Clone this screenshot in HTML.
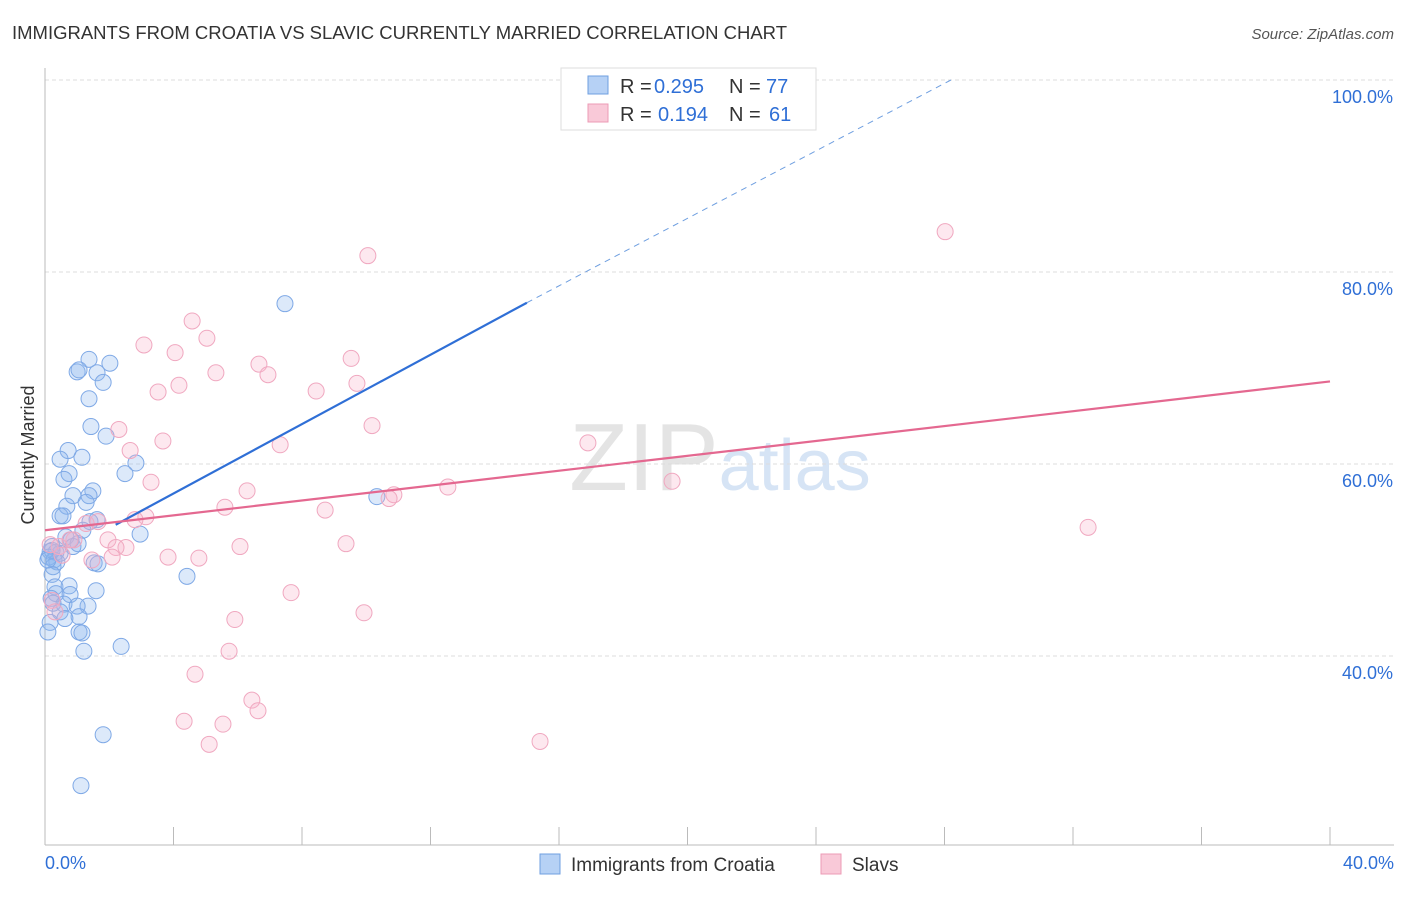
<!DOCTYPE html>
<html><head><meta charset="utf-8"><style>
body{margin:0;background:#fff;font-family:"Liberation Sans",sans-serif}
svg text{font-family:"Liberation Sans",sans-serif}
</style></head><body>
<svg id="c" width="1406" height="892">
<text x="12" y="39" font-size="18.5" fill="#333" textLength="775">IMMIGRANTS FROM CROATIA VS SLAVIC CURRENTLY MARRIED CORRELATION CHART</text>
<text x="1394" y="39" font-size="15" fill="#555" font-style="italic" text-anchor="end">Source: ZipAtlas.com</text>
<text x="720" y="490" font-size="96" fill="#e4e4e4" text-anchor="middle" font-family="Liberation Serif">ZIP<tspan fill="#d6e4f5" font-family="Liberation Sans" font-size="72">atlas</tspan></text>
<text x="34" y="455" font-size="18" fill="#333" text-anchor="middle" transform="rotate(-90 34 455)">Currently Married</text>
<g id="grid"></g><g id="pts"></g><g id="lines"></g>
<g>
<rect x="561" y="68" width="255" height="62" fill="#fff" stroke="#ddd"/>
<rect x="588" y="76" width="20" height="18" fill="#b6d1f5" stroke="#6f9fe0"/>
<rect x="588" y="104" width="20" height="18" fill="#f9c9d8" stroke="#ec9bb6"/>
<text x="620" y="93" font-size="20" fill="#333">R =</text>
<text x="654" y="93" font-size="20" fill="#2f6fd6">0.295</text>
<text x="729" y="93" font-size="20" fill="#333">N =</text>
<text x="766" y="93" font-size="20" fill="#2f6fd6">77</text>
<text x="620" y="121" font-size="20" fill="#333">R =</text>
<text x="658" y="121" font-size="20" fill="#2f6fd6">0.194</text>
<text x="729" y="121" font-size="20" fill="#333">N =</text>
<text x="769" y="121" font-size="20" fill="#2f6fd6">61</text>
</g>
<g>
<rect x="540" y="854" width="20" height="20" fill="#b6d1f5" stroke="#6f9fe0"/>
<text x="571" y="871" font-size="19" fill="#333">Immigrants from Croatia</text>
<rect x="821" y="854" width="20" height="20" fill="#f9c9d8" stroke="#ec9bb6"/>
<text x="852" y="871" font-size="19" fill="#333">Slavs</text>
</g>
<text x="45" y="869" font-size="18" fill="#2f6fd6">0.0%</text>
<text x="1394" y="869" font-size="18" fill="#2f6fd6" text-anchor="end">40.0%</text>
</svg>
<script>
const yTicks=[100,80,60,40];
const blueX=[285,89,110,77,79,97,103,89,91,106,68,82,60,136,69,125,64,93,73,89,86,67,60,63,97,90,83,140,66,71,78,73,52,50,56,60,49,54,57,94,98,53,52,187,55,69,96,56,70,51,53,64,88,77,60,79,65,50,79,82,48,84,121,103,81,377,52,48].map(p=>+((p-45)*40/1285).toFixed(2));
const blueY=[304,359,363,372,370,373,382,399,427,436,451,457,459,463,474,474,479,491,496,496,502,506,516,516,520,522,530,534,537,540,544,547,547,551,552,553,557,560,562,563,564,567,574,576,587,586,591,594,595,598,603,604,606,606,612,617,619,622,632,633,632,651,646,735,786,497,550,560].map(p=>+(100-(p-80)/9.6).toFixed(1));
const pinkX=[945,368,192,207,144,175,351,259,216,268,179,158,316,357,372,119,163,280,130,588,151,247,672,394,389,448,325,225,146,135,86,1088,98,74,108,59,126,116,240,346,112,168,199,92,291,364,235,229,195,252,258,184,223,209,540,50,70,62,52,55].map(p=>+((p-45)*40/1285).toFixed(2));
const pinkY=[232,256,321,338,345,353,358,364,373,375,385,392,391,383,426,429,441,445,451,443,482,491,481,495,499,487,510,507,517,520,524,527,522,540,540,547,548,548,547,544,557,557,558,560,593,613,620,651,674,700,711,721,724,744,741,545,540,555,600,612].map(p=>+(100-(p-80)/9.6).toFixed(1));
const blueLine=[0,49.7,15,76.8,28.2,100];
const pinkLine=[0,53.1,40,68.6];
const X=v=>45+v*1285/40, Y=v=>80+(100-v)*9.6;
const NS='http://www.w3.org/2000/svg';
function mk(t,a,p){const e=document.createElementNS(NS,t);for(const k in a)e.setAttribute(k,a[k]);document.getElementById(p).appendChild(e);return e;}
yTicks.forEach(t=>{
 const l=mk('line',{x1:45,x2:1394,y1:Y(t),y2:Y(t),stroke:'#ddd','stroke-dasharray':'4,3'},'grid');
 
 
 const tx=mk('text',{x:1393,y:Y(t)+23,'font-size':18,fill:'#2f6fd6','text-anchor':'end'},'grid');
 tx.textContent=t.toFixed(1)+'%';
 
 
});
mk('line',{x1:45,x2:45,y1:68,y2:845,stroke:'#bbb'},'grid');
mk('line',{x1:45,x2:1394,y1:845,y2:845,stroke:'#bbb'},'grid');
for(let i=0;i<=10;i++){mk('line',{x1:X(i*4),x2:X(i*4),y1:827,y2:845,stroke:'#bbb'},'grid');}
blueX.forEach((x,i)=>{const c=mk('circle',{cx:X(x),cy:Y(blueY[i]),r:8,fill:'rgba(140,182,240,0.3)',stroke:'#7fa9e6','stroke-width':1},'pts');
 
 });
pinkX.forEach((x,i)=>{const c=mk('circle',{cx:X(x),cy:Y(pinkY[i]),r:8,fill:'rgba(247,180,202,0.3)',stroke:'#f0a8c0','stroke-width':1},'pts');
 
 });
const bs=mk('line',{x1:X(2.2),y1:Y(blueLine[1]+(blueLine[3]-blueLine[1])/blueLine[2]*2.2),x2:X(blueLine[2]),y2:Y(blueLine[3]),stroke:'#2f6fd6','stroke-width':2.2},'lines');


const bd=mk('line',{x1:X(blueLine[2]),y1:Y(blueLine[3]),x2:X(blueLine[4]),y2:Y(blueLine[5]),stroke:'#6f9fe0','stroke-width':1,'stroke-dasharray':'6,5'},'lines');


const pl=mk('line',{x1:X(pinkLine[0]),y1:Y(pinkLine[1]),x2:X(pinkLine[2]),y2:Y(pinkLine[3]),stroke:'#e46890','stroke-width':2.2},'lines');


</script>
</body></html>
